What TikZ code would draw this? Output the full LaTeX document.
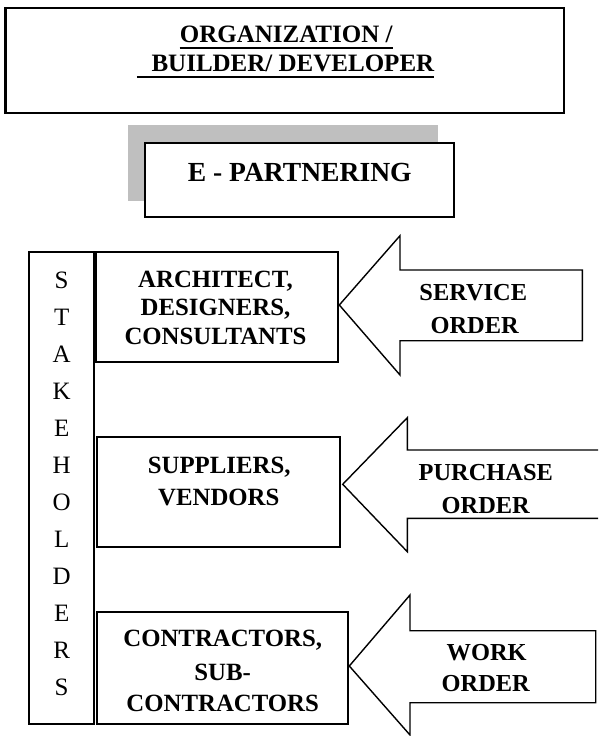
\documentclass[tikz,border=0pt]{standalone}
\usepackage{fontspec}
\setmainfont{Liberation Serif}
\begin{document}
\begin{tikzpicture}[x=1pt,y=-1pt,
  frame/.style={draw=black,line width=2.2pt,fill=white,inner sep=0pt,outer sep=0pt},
  sbox/.style={draw=black,line width=2pt,fill=white,inner sep=0pt,outer sep=0pt},
  shade/.style={fill=black!25,draw=none,inner sep=0pt,outer sep=0pt},
  arrowshape/.style={draw=black,line width=1.4pt,fill=white,line join=miter},
  ttl/.style={font=\fontsize{25}{30}\selectfont\bfseries,inner sep=0pt,anchor=base},
  eptxt/.style={font=\fontsize{27.6}{32}\selectfont\bfseries,inner sep=0pt,anchor=base},
  btxt/.style={font=\fontsize{24.8}{29}\selectfont\bfseries,inner sep=0pt,anchor=base},
  atxt/.style={font=\fontsize{24.4}{29}\selectfont\bfseries,inner sep=0pt,anchor=base},
  letter/.style={font=\fontsize{25}{30}\selectfont,inner sep=0pt,anchor=base},
  uline/.style={line width=2pt}]
\useasboundingbox (0,0) rectangle (598,736);

% top box
\node[frame,minimum width=558.8pt,minimum height=104.4pt] (org) at (284.9,60.5) {};
\node[ttl] (org1) at (286.2,42.7) {ORGANIZATION /};
\node[ttl] (org2) at (292.9,71.7) {BUILDER/ DEVELOPER};
\draw[uline] ([yshift=-5pt]org1.base west) -- ([yshift=-5pt]org1.base east);
\draw[uline] ([xshift=-14.5pt,yshift=-5.6pt]org2.base west) -- ([yshift=-5.6pt]org2.base east);

% e-partnering with shadow
\node[shade,minimum width=309.7pt,minimum height=75.4pt] (epshadow) at (283,163) {};
\node[frame,minimum width=309pt,minimum height=73.4pt] (ep) at (299.4,180) {};
\node[eptxt] (eptext) at (299.75,181) {E - PARTNERING};

% stakeholders column
\node[sbox,minimum width=65pt,minimum height=472pt] (stake) at (61.5,488.3) {};
\foreach \l [count=\i from 0] in {S,T,A,K,E,H,O,L,D,E,R,S}
  \node[letter] (s\i) at (61.7,288.3+37*\i) {\l};

% stakeholder boxes
\node[sbox,minimum width=242.3pt,minimum height=109.4pt] (arch) at (217.15,307) {};
\node[btxt] (a1) at (215.5,287.7) {ARCHITECT,};
\node[btxt] (a2) at (215.5,315.7) {DESIGNERS,};
\node[btxt] (a3) at (215.5,344.3) {CONSULTANTS};

\node[sbox,minimum width=243pt,minimum height=110pt] (supp) at (218.5,492.3) {};
\node[btxt] (p1) at (219.2,473.3) {SUPPLIERS,};
\node[btxt] (p2) at (218.8,505) {VENDORS};

\node[sbox,minimum width=251.8pt,minimum height=111.4pt] (cont) at (222.4,668) {};
\node[btxt] (c1) at (222.7,646) {CONTRACTORS,};
\node[btxt] (c2) at (222.7,680) {SUB-};
\node[btxt] (c3) at (222.7,711.7) {CONTRACTORS};

% block arrows
\coordinate (svtip) at (339.3,305);
\draw[arrowshape] (svtip) -- (400,235.7) -- (400,270) -- (582.3,270) -- (582.3,340.7)
  -- (400,340.7) -- (400,375) -- cycle;
\node[atxt] (sv1) at (473.3,300) {SERVICE};
\node[atxt] (sv2) at (474.7,333.3) {ORDER};

\coordinate (putip) at (342.7,484.3);
\draw[arrowshape] (598,450) -- (407.3,450) -- (407.3,417.7) -- (putip) -- (407.3,551.7)
  -- (407.3,518.3) -- (598,518.3);
\node[atxt] (pu1) at (485.8,480) {PURCHASE};
\node[atxt] (pu2) at (485.8,513.3) {ORDER};

\coordinate (wotip) at (349.3,666);
\draw[arrowshape] (wotip) -- (410,595) -- (410,630.7) -- (595.7,630.7) -- (595.7,702.7)
  -- (410,702.7) -- (410,735) -- cycle;
\node[atxt] (wo1) at (486.7,660) {WORK};
\node[atxt] (wo2) at (485.8,691.7) {ORDER};
\end{tikzpicture}
\end{document}
